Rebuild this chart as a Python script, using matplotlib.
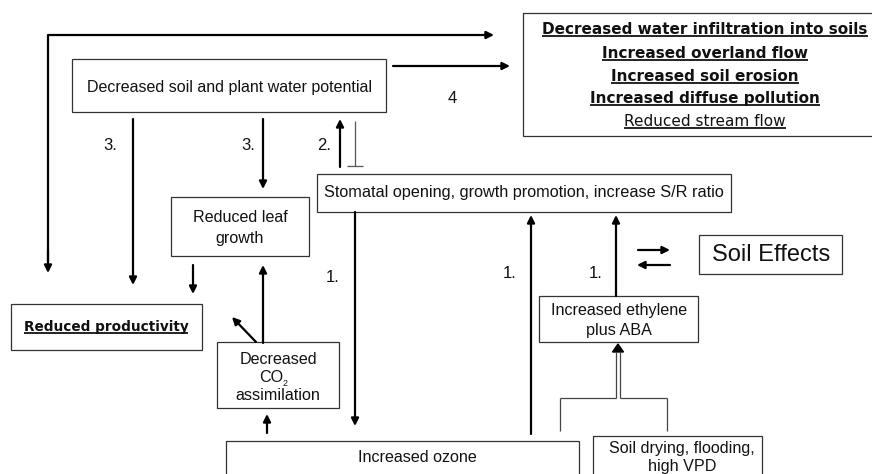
import matplotlib
matplotlib.use("Agg")
import matplotlib.pyplot as plt
from matplotlib.patches import Rectangle, Polygon

# ---- content ----
outcome_lines = ["Decreased water infiltration into soils", "Increased overland flow",
                 "Increased soil erosion", "Increased diffuse pollution", "Reduced stream flow"]
outcome_bold = [True, True, True, True, False]
water_text = "Decreased soil and plant water potential"
stomatal_text = "Stomatal opening, growth promotion, increase S/R ratio"
leaf_text = ["Reduced leaf", "growth"]
productivity_text = "Reduced productivity"
co2_text = ["Decreased", "CO", "assimilation"]
ethylene_text = ["Increased ethylene", "plus ABA"]
ozone_text = "Increased ozone"
soil_text = ["Soil drying, flooding,", "high VPD"]
soil_effects_text = "Soil Effects"
path_labels = ["3.", "3.", "2.", "1.", "1.", "1.", "4"]

W, H = 872, 474
fig = plt.figure(figsize=(W / 100, H / 100), dpi=100)
ax = fig.add_axes([0, 0, 1, 1])
ax.set_xlim(0, W)
ax.set_ylim(H, 0)
ax.axis("off")

SANS = "Liberation Sans"
VER = "DejaVu Sans"
EDGE = "#333333"
FS = 11.6

def box(x0, y0, x1, y1, lw=0.9):
    ax.add_patch(Rectangle((x0, y0), x1 - x0, y1 - y0, fill=False, ec=EDGE, lw=lw, clip_on=True))

def arrow(x0, y0, x1, y1, lw=1.6, ms=11, color="black"):
    ax.annotate("", xy=(x1, y1), xytext=(x0, y0),
                arrowprops=dict(arrowstyle="-|>", lw=lw, color=color, mutation_scale=ms,
                                shrinkA=0, shrinkB=0))

def line(xs, ys, lw=1.6, color="black"):
    ax.plot(xs, ys, color=color, lw=lw, solid_capstyle="butt")

def txt(x, y, s, size=FS, family=SANS, weight="normal"):
    return ax.text(x, y, s, ha="center", va="center", fontsize=size, family=family,
                   weight=weight, color="#111111")

underline_items = []

# ---- boxes ----
box(72, 59, 386, 112)
txt(229, 87, water_text, size=11.5)

box(523, 13, 900, 136)
ys = [29, 53, 76, 98, 121]
for s, b, y in zip(outcome_lines, outcome_bold, ys):
    t = txt(705, y, s, size=11.0, family=VER, weight="bold" if b else "normal")
    underline_items.append(t)

box(317, 174, 731, 212)
txt(524, 193, stomatal_text, size=11.7)

box(171, 197, 309, 256)
txt(240, 217, leaf_text[0])
txt(240, 238, leaf_text[1])

box(11, 304, 202, 350)
t = txt(106, 327, productivity_text, size=9.8, family=VER, weight="bold")
underline_items.append(t)

box(217, 342, 339, 408)
txt(278, 360, co2_text[0])
txt(271, 378, co2_text[1])
ax.text(282.5, 384, "2", ha="left", va="center", fontsize=6.5, family=SANS, color="#111111")
txt(278, 396, co2_text[2])

box(539, 296, 698, 342)
txt(619, 311, ethylene_text[0])
txt(619, 330, ethylene_text[1])

box(226, 441, 579, 500)
txt(417, 458, ozone_text)

box(593, 436, 762, 500)
txt(682, 448, soil_text[0])
txt(682, 467, soil_text[1])

box(699, 235, 842, 274)
txt(771, 255, soil_effects_text, size=17)

# ---- path labels ----
label_pos = [(110, 145), (248, 145), (324, 145), (333, 277), (510, 273), (596, 273), (452, 98)]
for s, (x, y) in zip(path_labels, label_pos):
    txt(x, y, s, size=12)

# ---- arrows ----
line([48, 48], [35, 262])
arrow(48, 250, 48, 273)
arrow(48, 35, 494, 35)
arrow(393, 66, 510, 66)
arrow(133, 119, 133, 285)
arrow(263, 119, 263, 189)
arrow(340, 167, 340, 119)
line([355, 355], [121, 166], lw=0.9, color="#555555")
line([347, 363], [166, 166], lw=0.9, color="#555555")
arrow(355, 212, 355, 426)
arrow(193, 265, 193, 294)
arrow(263, 343, 263, 265)
arrow(256, 342, 232, 317)
arrow(267, 433, 267, 414)
arrow(531, 434, 531, 215)
arrow(616, 296, 616, 215)
arrow(638, 250, 670, 250)
arrow(670, 265, 637, 265)

# double-line (hollow) arrow and bracket
GR = "#444444"
line([616, 616], [398, 352], lw=0.9, color=GR)
line([620, 620], [398, 352], lw=0.9, color=GR)
ax.add_patch(Polygon([[612.5, 352], [623.5, 352], [618, 344]], closed=True, color="black"))
line([560, 616], [398, 398], lw=0.9, color=GR)
line([620, 667], [398, 398], lw=0.9, color=GR)
line([560, 560], [398, 431], lw=0.9, color=GR)
line([667, 667], [398, 431], lw=0.9, color=GR)

# ---- underlines ----
fig.canvas.draw()
r = fig.canvas.get_renderer()
inv = ax.transData.inverted()
for t in underline_items:
    bb = t.get_window_extent(renderer=r)
    (x0, y0), (x1, y1) = inv.transform([[bb.x0, bb.y0], [bb.x1, bb.y1]])
    yb = max(y0, y1) - 1.0
    ax.plot([x0, x1], [yb, yb], color="#111111", lw=1.3, solid_capstyle="butt")

fig.savefig("out.png", dpi=100)
